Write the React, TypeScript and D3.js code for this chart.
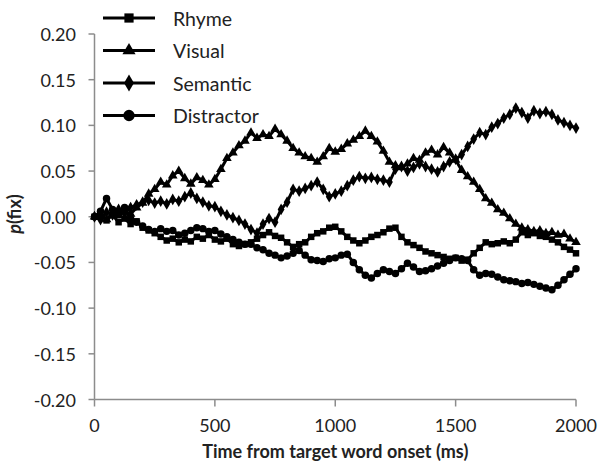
import React from "react";
import * as d3 from "d3";

const times: number[] = d3.range(0, 2001, 25);

const rhyme: number[] = [
  0, 0.004, -0.004, 0.002, -0.006, -0.002, -0.008, -0.005, -0.012, -0.015,
  -0.018, -0.022, -0.026, -0.024, -0.028, -0.025, -0.027, -0.022, -0.024, -0.02,
  -0.025, -0.027, -0.024, -0.03, -0.032, -0.03, -0.028, -0.024, -0.02, -0.017,
  -0.021, -0.023, -0.028, -0.033, -0.03, -0.028, -0.022, -0.018, -0.016, -0.012,
  -0.011, -0.016, -0.022, -0.026, -0.029, -0.026, -0.022, -0.02, -0.017, -0.013,
  -0.012, -0.022, -0.028, -0.031, -0.034, -0.038, -0.04, -0.042, -0.044, -0.046,
  -0.045, -0.048, -0.047, -0.04, -0.034, -0.028, -0.03, -0.029, -0.027, -0.029,
  -0.025, -0.017, -0.02, -0.018, -0.021, -0.022, -0.025, -0.028, -0.033, -0.036,
  -0.04,
];

const visual: number[] = [
  0, 0.002, -0.003, 0.004, 0.001, 0.006, 0.003, 0.01, 0.015, 0.025,
  0.03, 0.038, 0.035, 0.045, 0.05, 0.042, 0.036, 0.043, 0.04, 0.035,
  0.041, 0.052, 0.064, 0.07, 0.078, 0.083, 0.092, 0.086, 0.09, 0.088,
  0.096, 0.09, 0.083, 0.075, 0.07, 0.066, 0.064, 0.06, 0.066, 0.075,
  0.071, 0.074, 0.08, 0.084, 0.088, 0.094, 0.088, 0.082, 0.072, 0.06,
  0.056, 0.054, 0.058, 0.064, 0.062, 0.07, 0.073, 0.068, 0.076, 0.07,
  0.062, 0.051, 0.044, 0.038, 0.03, 0.02, 0.015, 0.008, 0.004, -0.002,
  -0.008, -0.012, -0.014, -0.016, -0.015, -0.018, -0.017, -0.02, -0.019, -0.024,
  -0.028,
];

const semantic: number[] = [
  0, -0.003, 0.005, 0.002, 0.008, 0.004, 0.01, 0.013, 0.016, 0.018,
  0.015, 0.017, 0.014, 0.019, 0.017, 0.022, 0.026, 0.02, 0.016, 0.012,
  0.011, 0.006, 0.002, -0.001, -0.004, -0.008, -0.014, -0.018, -0.008, -0.002,
  -0.006, 0.008, 0.016, 0.03, 0.028, 0.031, 0.034, 0.038, 0.03, 0.022,
  0.025, 0.028, 0.034, 0.04, 0.044, 0.042, 0.043, 0.041, 0.04, 0.038,
  0.052, 0.055, 0.05, 0.054, 0.058, 0.055, 0.052, 0.049, 0.055, 0.06,
  0.063, 0.068, 0.077, 0.085, 0.092, 0.09, 0.098, 0.102, 0.108, 0.112,
  0.119, 0.114, 0.108, 0.116, 0.113, 0.115, 0.112, 0.106, 0.103, 0.1,
  0.097,
];

const distractor: number[] = [
  0, 0.006, 0.02, 0.008, 0.003, 0.01, -0.002, -0.006, -0.01, -0.014,
  -0.016, -0.013, -0.016, -0.015, -0.02, -0.018, -0.015, -0.012, -0.013, -0.016,
  -0.015, -0.019, -0.022, -0.025, -0.028, -0.03, -0.03, -0.034, -0.036, -0.04,
  -0.042, -0.045, -0.043, -0.04, -0.037, -0.042, -0.047, -0.048, -0.049, -0.046,
  -0.045, -0.042, -0.041, -0.05, -0.058, -0.064, -0.067, -0.062, -0.058, -0.06,
  -0.062, -0.057, -0.051, -0.055, -0.06, -0.059, -0.057, -0.054, -0.051, -0.048,
  -0.045, -0.046, -0.048, -0.058, -0.064, -0.062, -0.063, -0.066, -0.069, -0.07,
  -0.071, -0.073, -0.072, -0.074, -0.076, -0.078, -0.08, -0.075, -0.069, -0.063,
  -0.057,
];

const seriesNames = ["Rhyme", "Visual", "Semantic", "Distractor"];
const seriesShapes = ["square", "triangle", "diamond", "circle"];
const seriesValues = [rhyme, visual, semantic, distractor];

const xTicks = [0, 500, 1000, 1500, 2000];
const yTicks = [-0.2, -0.15, -0.1, -0.05, 0, 0.05, 0.1, 0.15, 0.2];

const FONT = "Lato, 'Open Sans', sans-serif";
const AXIS = "#8c8c8c";

function symbolFor(shape: string) {
  switch (shape) {
    case "square":
      return d3.symbolSquare;
    case "triangle":
      return d3.symbolTriangle;
    case "diamond":
      return d3.symbolDiamond;
    default:
      return d3.symbolCircle;
  }
}

export default function App() {
  const W = 607;
  const H = 464;
  const x = d3.scaleLinear().domain([0, 2000]).range([94.5, 576]);
  const y = d3.scaleLinear().domain([-0.2, 0.2]).range([399.5, 34]);

  const line = d3
    .line<[number, number]>()
    .x((d) => x(d[0]))
    .y((d) => y(d[1]));

  const markerSize: Record<string, number> = {
    square: 42,
    triangle: 40,
    diamond: 40,
    circle: 44,
  };
  const legendSize: Record<string, number> = {
    square: 85,
    triangle: 75,
    diamond: 85,
    circle: 100,
  };

  const legendY = [18, 50.5, 83, 115.5];
  const fmt = (t: number) => d3.format(".2f")(t).replace("\u2212", "-");

  return (
    <svg
      width={W}
      height={H}
      style={{ position: "absolute", left: 0, top: 0, background: "#fff" }}
      fontFamily={FONT}
    >
      <rect x={0} y={0} width={W} height={H} fill="#fff" />
      {/* axes */}
      <line x1={x(0)} x2={x(0)} y1={y(0.2)} y2={y(-0.2)} stroke={AXIS} strokeWidth={1.5} />
      <line x1={x(0)} x2={x(2000)} y1={y(-0.2)} y2={y(-0.2)} stroke={AXIS} strokeWidth={1.5} />
      {yTicks.map((t) => (
        <g key={"y" + t}>
          <line x1={x(0) - 6} x2={x(0)} y1={y(t)} y2={y(t)} stroke={AXIS} strokeWidth={1.5} />
          <text
            x={76}
            y={y(t)}
            textAnchor="end"
            dominantBaseline="central"
            fontSize={18}
            fill="#222"
          >
            {fmt(t)}
          </text>
        </g>
      ))}
      {xTicks.map((t) => (
        <g key={"x" + t}>
          <line x1={x(t)} x2={x(t)} y1={y(-0.2)} y2={y(-0.2) + 7} stroke={AXIS} strokeWidth={1.5} />
          <text x={x(t)} y={432} textAnchor="middle" fontSize={18} fill="#222">
            {t}
          </text>
        </g>
      ))}
      <text
        x={(x(0) + x(2000)) / 2}
        y={458}
        textAnchor="middle"
        fontSize={18}
        fontWeight="bold"
        fill="#222"
      >
        Time from target word onset (ms)
      </text>
      <text
        transform={`translate(21, ${y(0.003)}) rotate(-90)`}
        textAnchor="middle"
        fontSize={18}
        fontWeight="bold"
        fill="#222"
      >
        <tspan fontStyle="italic">p</tspan>(fix)
      </text>

      {/* series */}
      {seriesValues.map((vals, si) => {
        const pts: [number, number][] = vals.map((v, i) => [times[i], v]);
        const sym = d3.symbol().type(symbolFor(seriesShapes[si])).size(markerSize[seriesShapes[si]]);
        return (
          <g key={seriesNames[si]}>
            <path d={line(pts) || ""} fill="none" stroke="#000" strokeWidth={3} strokeLinejoin="round" />
            {pts.map((p, i) => (
              <path key={i} d={sym() || ""} transform={`translate(${x(p[0])},${y(p[1])})`} fill="#000" />
            ))}
          </g>
        );
      })}

      {/* legend */}
      {seriesNames.map((n, i) => {
        const sym = d3.symbol().type(symbolFor(seriesShapes[i])).size(legendSize[seriesShapes[i]]);
        return (
          <g key={"lg" + n}>
            <line x1={103} x2={155} y1={legendY[i]} y2={legendY[i]} stroke="#000" strokeWidth={2.8} />
            <path d={sym() || ""} transform={`translate(129,${legendY[i]})`} fill="#000" />
            <text x={173} y={legendY[i]} dominantBaseline="central" fontSize={19.5} fill="#222">
              {n}
            </text>
          </g>
        );
      })}
    </svg>
  );
}
